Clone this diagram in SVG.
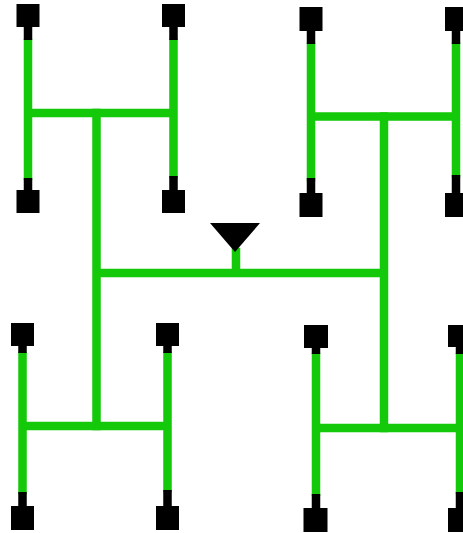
<svg xmlns="http://www.w3.org/2000/svg" width="463" height="533" viewBox="0 0 463 533">
<style>
.w{stroke:#14c80a;stroke-width:8.5;fill:none;stroke-linecap:square}
.s{stroke:#000;stroke-width:8.5;fill:none}
.sink{fill:#000}
.src{fill:#000}
</style>
<rect width="463" height="533" fill="#fff"/>
<g id="connectors">
<path class="w" d="M96.5,273 H384 M236,252 V273 M96.5,113 V426 M384,116.5 V428"/>
<path class="w" d="M28,113 H173.5 M28,43 V176 M173.5,43 V174"/>
<path class="w" d="M311,116.5 H456 M311,47 V177 M456,47 V173"/>
<path class="w" d="M22.5,426 H167.5 M22.5,356 V490 M167.5,356 V488"/>
<path class="w" d="M316,428 H460 M316,357 V492 M460,357 V490"/>
</g>
<g id="stubs">
<path class="s" d="M28,27 V40 M28,178 V190 M173.5,27 V40 M173.5,176 V190"/>
<path class="s" d="M311,31 V44 M311,178 V193 M456,31 V44 M456,175 V193"/>
<path class="s" d="M22.5,346 V353 M22.5,492 V506 M167.5,346 V353 M167.5,490 V506"/>
<path class="s" d="M316,348 V354 M316,494 V508 M460,347 V354 M460,492 V508"/>
</g>
<g id="source"><polygon class="src" points="210,223 260,223 235,252"/></g>
<g id="sink1"><rect class="sink" x="16.5" y="4" width="23" height="23"/></g>
<g id="sink2"><rect class="sink" x="16.5" y="190" width="23" height="23"/></g>
<g id="sink3"><rect class="sink" x="162" y="4" width="23" height="23"/></g>
<g id="sink4"><rect class="sink" x="162" y="190" width="23" height="23"/></g>
<g id="sink5"><rect class="sink" x="299.5" y="7" width="23" height="24"/></g>
<g id="sink6"><rect class="sink" x="299.5" y="193" width="23" height="24"/></g>
<g id="sink7"><rect class="sink" x="445" y="7" width="23" height="24"/></g>
<g id="sink8"><rect class="sink" x="445" y="193" width="23" height="24"/></g>
<g id="sink9"><rect class="sink" x="11" y="323" width="23" height="23"/></g>
<g id="sink10"><rect class="sink" x="11" y="506" width="23" height="24"/></g>
<g id="sink11"><rect class="sink" x="156" y="323" width="23" height="23"/></g>
<g id="sink12"><rect class="sink" x="156" y="506" width="23" height="24"/></g>
<g id="sink13"><rect class="sink" x="304" y="325" width="24" height="23"/></g>
<g id="sink14"><rect class="sink" x="303.5" y="508" width="24" height="24"/></g>
<g id="sink15"><rect class="sink" x="448" y="325" width="24" height="22"/></g>
<g id="sink16"><rect class="sink" x="448" y="508" width="24" height="24"/></g>
</svg>
